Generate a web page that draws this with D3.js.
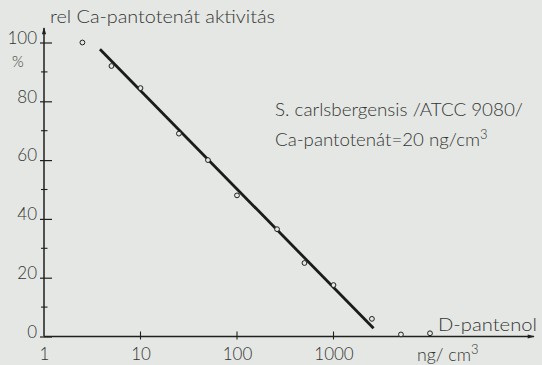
<!DOCTYPE html>
<html><head><meta charset="utf-8">
<script src="https://cdn.jsdelivr.net/npm/d3@7"></script>
<style>
html,body{margin:0;padding:0;background:#e5e7e4;}
svg{display:block;}
text{font-family:"Lato","Open Sans","DejaVu Sans",sans-serif;font-weight:300;fill:#333533;}
</style></head>
<body>
<svg id="c" width="542" height="365"></svg>
<script>
// Data
const concentration = [2.5, 5, 10, 25, 50, 100, 260, 500, 1000, 2500, 5000, 10000]; // ng/cm3 D-pantenol
const activity      = [100, 92, 84.5, 69, 60, 48, 36.5, 25, 17.5, 6, 0.7, 1.1];     // rel. %
const fitX = [3.8, 2600];
const fitY = [97.7, 2.8];
const yMajorTicks = [0, 20, 40, 60, 80, 100];
const yMinorTicks = [10, 30, 50, 70, 90];
const xTicks = [10, 100, 1000];
const xLabels = ["1", "10", "100", "1000"];
const xLabelValues = [1, 10, 100, 1000];

const svg = d3.select("#c");
const ink = "#1f211f";
const x = d3.scaleLog().domain([1, 10000]).range([44, 430]);
const y = d3.scaleLinear().domain([0, 100]).range([336.5, 42.5]);

svg.append("defs").append("marker").attr("id","arr").attr("viewBox","0 0 10 10")
  .attr("refX",9).attr("refY",5).attr("markerWidth",10).attr("markerHeight",7)
  .attr("markerUnits","userSpaceOnUse")
  .attr("orient","auto").append("path").attr("d","M0,2 L10,5 L0,8 Z").attr("fill",ink);

svg.append("line").attr("x1",x(1)).attr("x2",534).attr("y1",y(0)).attr("y2",y(0))
  .attr("stroke",ink).attr("stroke-width",1.5).attr("marker-end","url(#arr)");
svg.append("line").attr("x1",x(1)).attr("x2",x(1)).attr("y1",y(0)).attr("y2",28)
  .attr("stroke",ink).attr("stroke-width",1.5).attr("marker-end","url(#arr)");

// y axis ticks + labels
const yAxis = d3.axisLeft(y).tickValues(yMajorTicks).tickSize(0).tickPadding(7).tickFormat(d3.format("d"));
const gy = svg.append("g").attr("transform",`translate(${x(1)},0)`).call(yAxis);
gy.select(".domain").remove();
gy.selectAll(".tick text").attr("font-size",17).attr("fill","#333533")
  .attr("font-family","Lato, 'Open Sans', sans-serif").attr("font-weight",300).attr("dy","0.05em");
gy.selectAll(".tick").append("line").attr("x1",-4).attr("x2",8).attr("stroke",ink).attr("stroke-width",1.2);
yMinorTicks.forEach(v => {
  svg.append("line").attr("x1",x(1)-3).attr("x2",x(1)+3.5).attr("y1",y(v)).attr("y2",y(v))
    .attr("stroke",ink).attr("stroke-width",1.1);
});

// x axis ticks
xTicks.forEach(v => {
  svg.append("line").attr("x1",x(v)).attr("x2",x(v)).attr("y1",y(0)-5).attr("y2",y(0)+3)
    .attr("stroke",ink).attr("stroke-width",1.1);
});
const gx = svg.append("g").attr("transform",`translate(0,${y(0)})`)
  .call(d3.axisBottom(x).tickValues(xLabelValues).tickSize(0).tickPadding(11).tickFormat((d,i)=>xLabels[i]));
gx.select(".domain").remove();
gx.selectAll(".tick text").attr("font-size",17).attr("fill","#333533")
  .attr("font-family","Lato, 'Open Sans', sans-serif").attr("font-weight",300);

// fit line
svg.append("path").datum(d3.zip(fitX, fitY))
  .attr("d", d3.line().x(d=>x(d[0])).y(d=>y(d[1])))
  .attr("stroke","#1a1c1a").attr("stroke-width",2.8).attr("fill","none");

// points
svg.selectAll("circle.pt").data(d3.zip(concentration, activity)).enter().append("circle")
  .attr("class","pt").attr("cx",d=>x(d[0])).attr("cy",d=>y(d[1])).attr("r",2.4)
  .attr("fill","#e5e7e4").attr("stroke",ink).attr("stroke-width",1);

// texts
svg.append("text").attr("x",50).attr("y",23).attr("font-size",17)
  .attr("textLength",225).attr("lengthAdjust","spacingAndGlyphs").text("rel Ca-pantotenát aktivitás");
svg.append("text").attr("x",12).attr("y",67).attr("font-size",15).text("%");
svg.append("text").attr("x",438).attr("y",331).attr("font-size",17)
  .attr("textLength",99).attr("lengthAdjust","spacingAndGlyphs").text("D-pantenol");
const u = svg.append("text").attr("x",417).attr("y",361).attr("font-size",17);
u.append("tspan").attr("textLength",54).attr("lengthAdjust","spacingAndGlyphs").text("ng/ cm");
u.append("tspan").attr("dy",-7).attr("font-size",13).text("3");
svg.append("text").attr("x",275).attr("y",116).attr("font-size",17)
  .attr("textLength",248).attr("lengthAdjust","spacingAndGlyphs").text("S. carlsbergensis /ATCC 9080/");
const a = svg.append("text").attr("x",275).attr("y",146).attr("font-size",17);
a.append("tspan").attr("textLength",205).attr("lengthAdjust","spacingAndGlyphs").text("Ca-pantotenát=20 ng/cm");
a.append("tspan").attr("dy",-7).attr("font-size",13).text("3");
</script>
</body></html>
